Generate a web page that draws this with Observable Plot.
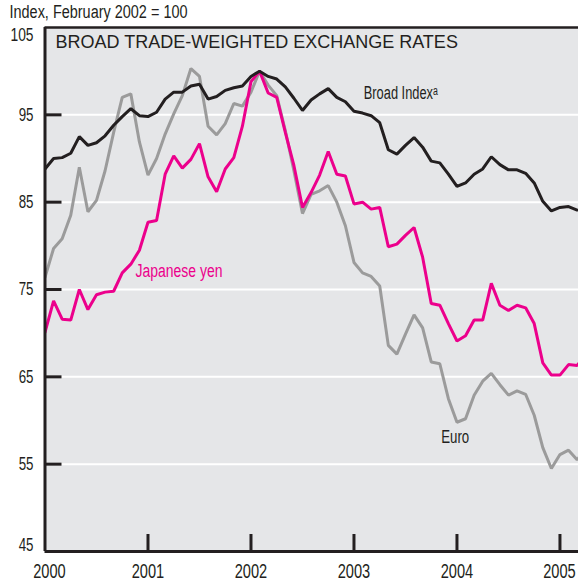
<!DOCTYPE html>
<html>
<head>
<meta charset="utf-8">
<script src="https://cdn.jsdelivr.net/npm/d3@7"></script>
<script src="https://cdn.jsdelivr.net/npm/@observablehq/plot@0.6"></script>
<style>
  html, body { margin: 0; padding: 0; background: #ffffff; }
  #chart svg { display: block; }
</style>
</head>
<body>
<div id="chart"></div>
<script>
// Monthly series, first value = January 2000
const startYear = 2000;
const broadIndex = [
  88.8, 90.0, 90.1, 90.6, 92.5, 91.5, 91.8, 92.6, 93.8, 94.8, 95.7, 94.9,
  94.8, 95.3, 96.8, 97.6, 97.6, 98.3, 98.5, 96.8, 97.1, 97.8, 98.1, 98.3,
  99.4, 100.0, 99.4, 99.1, 98.2, 96.9, 95.5, 96.7, 97.4, 98.0, 97.0, 96.5,
  95.4, 95.2, 94.9, 94.1, 91.0, 90.5, 91.5, 92.4, 91.3, 89.7, 89.5, 88.2,
  86.8, 87.2, 88.2, 88.8, 90.2, 89.3, 88.7, 88.7, 88.3, 87.2, 85.1, 84.0,
  84.4, 84.5, 84.1
];
const japaneseYen = [
  70.1, 73.7, 71.6, 71.5, 75.0, 72.7, 74.4, 74.7, 74.8, 76.9, 77.9, 79.5,
  82.7, 82.9, 88.2, 90.3, 88.9, 89.9, 91.7, 87.9, 86.2, 88.8, 90.1, 93.7,
  98.8, 100.0, 97.5, 97.0, 93.0, 89.2, 84.4, 86.1, 88.1, 90.8, 88.2, 88.0,
  84.8, 85.0, 84.2, 84.4, 79.9, 80.2, 81.2, 82.1, 78.7, 73.4, 73.2, 71.1,
  69.1, 69.7, 71.5, 71.5, 75.7, 73.2, 72.6, 73.2, 72.9, 71.1, 66.6, 65.2,
  65.2, 66.4, 66.3, 67.5
];
const euro = [
  76.4, 79.7, 80.8, 83.5, 89.0, 83.9, 85.2, 88.6, 93.0, 97.0, 97.4, 91.9,
  88.1, 90.0, 92.8, 95.1, 97.2, 100.3, 99.4, 93.7, 92.7, 94.0, 96.3, 96.0,
  97.6, 100.0, 98.4, 97.2, 93.2, 88.6, 83.7, 85.9, 86.3, 86.9, 85.0, 82.3,
  78.1, 76.9, 76.5, 75.4, 68.6, 67.6, 69.9, 72.1, 70.6, 66.7, 66.5, 62.5,
  59.8, 60.2, 62.9, 64.5, 65.4, 64.1, 62.9, 63.4, 63.0, 60.6, 56.9, 54.5,
  56.1, 56.6, 55.5, 56.8
];

const yTicks = [45, 55, 65, 75, 85, 95, 105];
const gridValues = [55, 65, 75, 85, 95];
const xYears = [2000, 2001, 2002, 2003, 2004, 2005];
const xDomain = [2000, 2005.18];
const yDomain = [45, 105];

const unitsLabel = "Index, February 2002 = 100";
const chartTitle = "BROAD TRADE-WEIGHTED EXCHANGE RATES";
const seriesLabels = ["Broad Index\u1d43", "Japanese yen", "Euro"];
const seriesLabelX = [2003.095, 2000.879, 2003.847];
const seriesLabelY = [96.76, 76.4, 57.4];

const colors = { broad: "#231f20", yen: "#ec008c", euro: "#9b9b9b", bg: "#e5e6e8", ink: "#231f20" };

function toRows(values) {
  return values.map((v, i) => ({ date: startYear + i / 12, value: v }));
}

const W = 578, H = 584, mL = 44.5, mT = 27, mB = 33, mR = 0;
const innerW = W - mL - mR, innerH = H - mT - mB;
const font = "'Liberation Sans',Arial,Helvetica,'DejaVu Sans',sans-serif";
const yearWidth = 32.5;

// condensed look: target rendered widths (px) of texts, applied via textLength
const condensedWidths = {
  "Index, February 2002 = 100": 178,
  "Broad Index\u1d43": 74,
  "Japanese yen": 87,
  "Euro": 28,
  "105": 23,
  "2000": yearWidth, "2001": yearWidth, "2002": yearWidth, "2003": yearWidth, "2004": yearWidth, "2005": yearWidth
};
const condensedFactor = 0.74;

const labelRows = seriesLabels.map((t, i) => ({ text: t, x: seriesLabelX[i], y: seriesLabelY[i], i }));
const yearAxis = { tickSize: 0, tickPadding: 12.3, fontSize: 20.5, fill: colors.ink, tickFormat: d => String(d) };

const chart = Plot.plot({
  width: W,
  height: H,
  marginLeft: mL,
  marginTop: mT,
  marginBottom: mB,
  marginRight: mR,
  style: { fontFamily: font, fontSize: "18px", color: colors.ink, background: "#ffffff" },
  x: { domain: xDomain, axis: null },
  y: { domain: yDomain, axis: null },
  marks: [
    Plot.frame({ fill: colors.bg, stroke: null }),
    Plot.ruleY(gridValues, { stroke: "#ffffff", strokeWidth: 2 }),
    Plot.line(toRows(euro), { x: "date", y: "value", stroke: colors.euro, strokeWidth: 3, strokeLinejoin: "miter", clip: true }),
    Plot.line(toRows(japaneseYen), { x: "date", y: "value", stroke: colors.yen, strokeWidth: 3, strokeLinejoin: "miter", clip: true }),
    Plot.line(toRows(broadIndex), { x: "date", y: "value", stroke: colors.broad, strokeWidth: 3, strokeLinejoin: "miter", clip: true }),
    Plot.tickY(gridValues, { y: d => d, insetRight: innerW - 17, stroke: colors.ink, strokeWidth: 3 }),
    Plot.tickX(xYears.slice(1), { x: d => d, insetTop: innerH - 17, stroke: colors.ink, strokeWidth: 3 }),
    Plot.ruleX([xDomain[0]], { stroke: colors.ink, strokeWidth: 3 }),
    Plot.ruleY([yDomain[0]], { stroke: colors.ink, strokeWidth: 3 }),
    Plot.ruleY([yDomain[1]], { stroke: colors.ink, strokeWidth: 2.5 }),
    Plot.axisY(yTicks.slice(1, -1), { tickSize: 0, tickPadding: 11.5, fontSize: 18, fill: colors.ink }),
    Plot.axisY([yTicks[0]], { tickSize: 0, tickPadding: 11.5, fontSize: 18, fill: colors.ink, dy: -6 }),
    Plot.axisY([yTicks[yTicks.length - 1]], { tickSize: 0, tickPadding: 11.5, fontSize: 18, fill: colors.ink, dy: 7.5 }),
    Plot.axisX([xYears[0]], { ...yearAxis, dx: 4.5 }),
    Plot.axisX(xYears.slice(1, -1), yearAxis),
    Plot.axisX([xYears[xYears.length - 1]], { ...yearAxis, textAnchor: "end", dx: yearWidth / 2 - 0.5 }),
    Plot.text([chartTitle], { frameAnchor: "top-left", dx: 10.5, dy: 8, textAnchor: "start", lineAnchor: "top", fontSize: 18, fill: colors.ink }),
    Plot.text([unitsLabel], { frameAnchor: "top-left", dx: 9 - mL, dy: 17.5 - mT, textAnchor: "start", lineAnchor: "bottom", fontSize: 18, fill: colors.ink }),
    Plot.text(labelRows, { x: "x", y: "y", text: "text", textAnchor: "start", lineAnchor: "bottom", fontSize: 18,
      fill: d => [colors.broad, colors.yen, colors.broad][d.i] })
  ]
});

document.getElementById("chart").appendChild(chart);

// apply condensed widths to all texts except the title
chart.querySelectorAll("text").forEach(el => {
  const t = el.textContent;
  if (t === chartTitle || !t) return;
  const natural = el.getComputedTextLength();
  const target = condensedWidths[t] !== undefined ? condensedWidths[t] : natural * condensedFactor;
  el.setAttribute("textLength", target);
  el.setAttribute("lengthAdjust", "spacingAndGlyphs");
});
</script>
</body>
</html>
